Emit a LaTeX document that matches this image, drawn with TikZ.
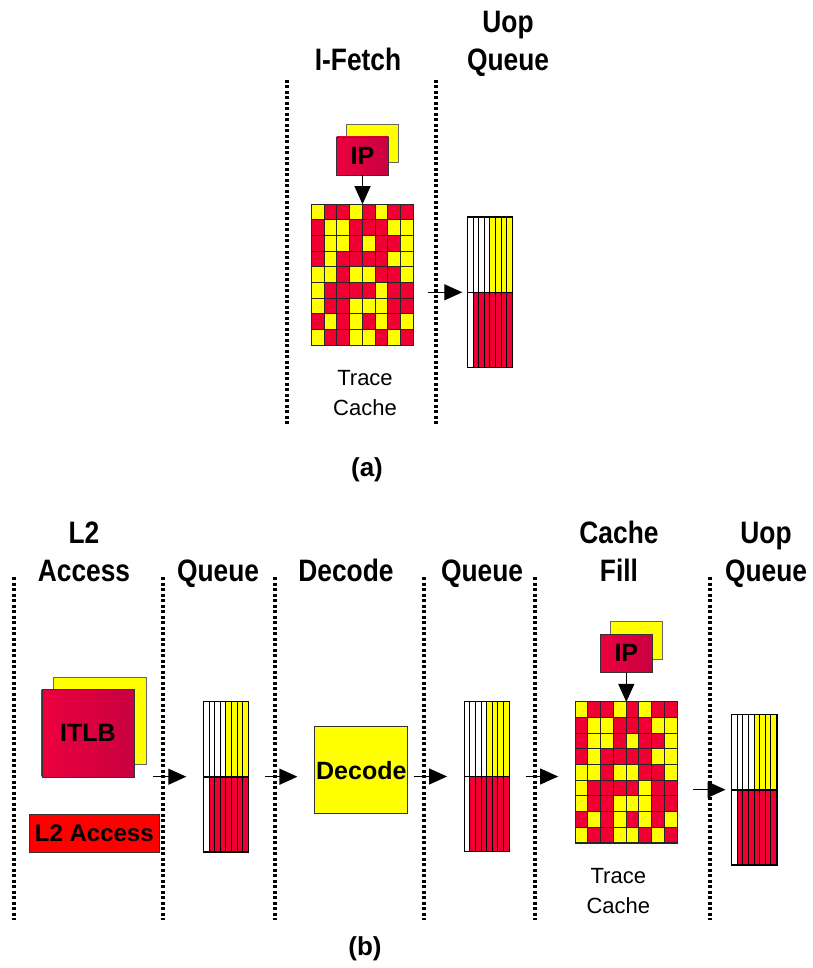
\documentclass[tikz,border=0pt]{standalone}
\usepackage{fontspec}
\setmainfont{Liberation Sans}
\newfontfamily\narrowfont{Liberation Sans}[FakeStretch=0.85]
\usetikzlibrary{positioning}
\usetikzlibrary{calc}
\usetikzlibrary{arrows.meta}

\definecolor{cellred}{HTML}{F00032}
\definecolor{cellyellow}{HTML}{FFFF00}
\definecolor{ipred}{HTML}{EC003E}
\definecolor{ipdark}{HTML}{C80040}
\definecolor{l2red}{HTML}{FF0000}

% Trace cache cells, 8 columns by 9 rows (1 = yellow, 0 = red).
\newcommand{\tracecells}[1]{%
  \foreach \bits [count=\row from 0] in {{1,0,0,1,0,1,0,0},{0,1,1,0,0,0,1,1},%
      {0,1,1,0,1,0,0,1},{0,1,0,0,0,0,1,1},{1,1,0,1,1,0,0,1},{1,0,0,0,0,1,0,0},%
      {1,0,0,1,1,1,0,0},{0,1,0,1,0,1,0,1},{1,0,0,1,1,0,1,0}}{%
    \foreach \b [count=\col from 0] in \bits {%
      \ifnum\b=1 \def\cellcol{cellyellow}\else\def\cellcol{cellred}\fi
      \draw[cell, fill=\cellcol] ($(#1.north west)+(\col*12.75,\row*15.667)$)
        rectangle ++(12.75,15.667);
    }%
  }%
  \draw[cell] (#1.north west) rectangle (#1.south east);
}

% Uop queue slots: top half white/yellow, bottom half white/red.
\newcommand{\queueslots}[1]{%
  \foreach \col in {0,...,7}{%
    \ifnum\col<4 \def\topcol{white}\else\def\topcol{cellyellow}\fi
    \ifnum\col=0 \def\botcol{white}\else\def\botcol{cellred}\fi
    \draw[slot, fill=\topcol] ($(#1.north west)+(\col*5.625,0)$) rectangle ++(5.625,75);
    \draw[slot, fill=\botcol] ($(#1.west)+(\col*5.625,0)$) rectangle ++(5.625,75);
  }%
  \draw[line width=1.2pt] (#1.north west) rectangle (#1.south east);
  \draw[line width=1.6pt] (#1.west) -- (#1.east);
}

\begin{document}
\begin{tikzpicture}[
        x=1pt,
        y=-1pt,
        stage/.style={
            line width=3.5pt,
            dash pattern=on 3pt off 2.5pt,
        },
        flow/.style={
            line width=1.2pt,
            -{Triangle[length=18pt,width=16pt]},
        },
        head/.style={
            font=\narrowfont\bfseries\fontsize{31}{38}\selectfont,
            align=center,
            anchor=base,
            inner sep=0,
        },
        note/.style={
            font=\fontsize{22}{30}\selectfont,
            align=center,
            anchor=base,
            inner sep=0,
        },
        caption/.style={
            font=\bfseries\fontsize{26}{30}\selectfont,
            anchor=base,
            inner sep=0,
        },
        backbox/.style={
            draw=black!60,
            fill=cellyellow,
            inner sep=0,
        },
        frontbox/.style={
            draw=black!80,
            left color=ipred,
            right color=ipdark,
            font=\bfseries\fontsize{25}{30}\selectfont,
            inner sep=0,
        },
        cachegrid/.style={
            minimum width=102pt,
            minimum height=141pt,
            inner sep=0,
        },
        queue/.style={
            minimum width=45pt,
            minimum height=150pt,
            inner sep=0,
        },
        cell/.style={
            draw=black!85,
            line width=1pt,
        },
        slot/.style={
            draw=black,
            line width=0.8pt,
        },
    ]
    \useasboundingbox (0,0) rectangle (812,968);

    % (a) Trace cache hit.
    \coordinate (ta) at (287,80);
    \coordinate (tb) at (436,80);

    \draw[stage] (ta) -- ++(0,345);
    \draw[stage] (tb) -- ++(0,345);

    \node[head] (lfetch) at (358,71) {I-Fetch};
    \node[head] (luopa) at (508,71) {Uop\\Queue};

    \node[backbox, minimum width=52.6pt, minimum height=37.7pt] (ipaback) at (372,143) {};
    \node[frontbox, minimum width=52pt, minimum height=38pt] (ipa)
        at ([shift={(-9.5,13)}]ipaback.center) {IP};

    \node[cachegrid, below=29pt of ipa] (tca) {};
    \tracecells{tca}
    \node[note] (ltca) at ([xshift=2.5pt,yshift=-69.5pt]tca.south) {Trace\\Cache};

    \node[queue] (qa) at (490,292.3) {};
    \queueslots{qa}

    \draw[flow] (ipa.south) -- (tca.north);
    \draw[flow, shorten >=5pt] ([xshift=-8pt]tb |- qa.west) -- (qa.west);

    \node[caption] (capa) at (367,476) {(a)};

    % (b) Trace cache miss.
    \coordinate (b1) at (14,577);
    \coordinate (b2) at (163,577);
    \coordinate (b3) at (275,577);
    \coordinate (b4) at (424,577);
    \coordinate (b5) at (535,577);
    \coordinate (b6) at (710,577);

    \foreach \b in {b1,b2,b3,b4,b5,b6}
        \draw[stage] (\b) -- ++(0,343);

    \node[head] (ll2) at (84,581) {L2\\Access};
    \node[head] (lq1) at (218,581) {Queue};
    \node[head] (ldec) at (346,581) {Decode};
    \node[head] (lq2) at (482,581) {Queue};
    \node[head] (lfill) at (619,581) {Cache\\Fill};
    \node[head] (luopb) at (766,581) {Uop\\Queue};

    \node[backbox, minimum width=93pt, minimum height=87.3pt] (itlbback) at (99.2,720.4) {};
    \node[frontbox, minimum width=92.6pt, minimum height=87.4pt] (itlb)
        at ([shift={(-11.2,12.6)}]itlbback.center) {ITLB};
    \node[draw=black!80, fill=l2red, inner sep=0, minimum width=130pt, minimum height=38.4pt,
        font=\bfseries\fontsize{24}{30}\selectfont, below=36.6pt of itlb, xshift=6.3pt] (l2) {L2 Access};

    \node[queue] (q1) at (226,776.7) {};
    \queueslots{q1}

    \node[draw=black!80, line width=1pt, fill=cellyellow, inner sep=0, minimum width=92.7pt,
        minimum height=87.3pt, font=\bfseries\fontsize{25}{30}\selectfont] (dec) at (361.3,770.3) {Decode};

    \node[queue] (q2) at (486.8,776.5) {};
    \queueslots{q2}

    \node[backbox, minimum width=52.3pt, minimum height=38pt] (ipbback) at (636.2,640) {};
    \node[frontbox, minimum width=52pt, minimum height=38pt] (ipb)
        at ([shift={(-9.9,13.3)}]ipbback.center) {IP};

    \node[cachegrid, below=29.4pt of ipb] (tcb) {};
    \tracecells{tcb}
    \node[note] (ltcb) at ([xshift=-8pt,yshift=-69.7pt]tcb.south) {Trace\\Cache};

    \node[queue] (q3) at (754.2,789.7) {};
    \queueslots{q3}

    \draw[flow] (ipb.south) -- (tcb.north);
    \draw[flow, shorten >=17pt] ([xshift=-10pt]b2 |- q1.west) -- (q1.west);
    \draw[flow, shorten >=17pt] ([xshift=-10pt]b3 |- q1.west) -- (dec.west |- q1.west);
    \draw[flow, shorten >=17pt] ([xshift=-10pt]b4 |- q2.west) -- (q2.west);
    \draw[flow, shorten >=17pt] ([xshift=-9pt]b5 |- q2.west) -- (tcb.west |- q2.west);
    \draw[flow, shorten >=6pt] ([xshift=-17pt]b6 |- q3.west) -- (q3.west);

    \node[caption] (capb) at (365,955) {(b)};

\end{tikzpicture}
\end{document}
